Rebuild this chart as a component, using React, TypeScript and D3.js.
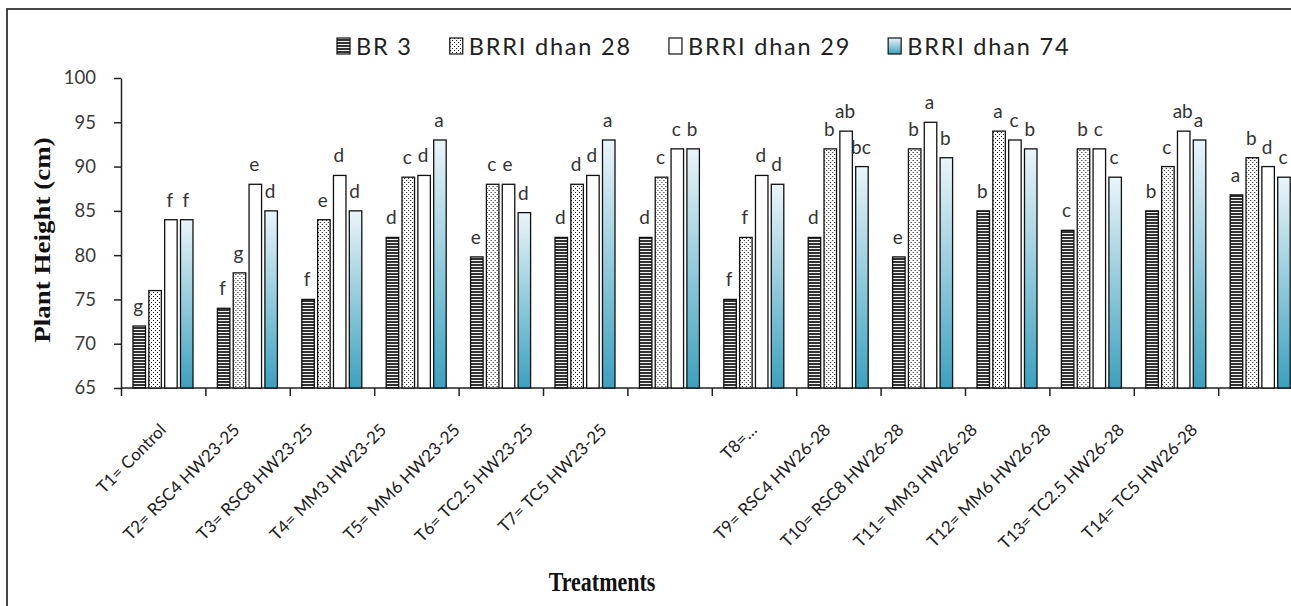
import React, { Component } from "react";
import * as d3 from "d3";

// treatments on the x axis
const treatments = [
  "T1= Control",
  "T2= RSC4 HW23-25",
  "T3= RSC8 HW23-25",
  "T4= MM3 HW23-25",
  "T5= MM6 HW23-25",
  "T6= TC2.5 HW23-25",
  "T7= TC5 HW23-25",
  "T8=…",
  "T9= RSC4 HW26-28",
  "T10= RSC8 HW26-28",
  "T11= MM3 HW26-28",
  "T12= MM6 HW26-28",
  "T13= TC2.5 HW26-28",
  "T14= TC5 HW26-28",
];

const varieties = ["BR 3", "BRRI dhan 28", "BRRI dhan 29", "BRRI dhan 74"];

// plant height (cm)
const br3 = [72, 74, 75, 82, 79.8, 82, 82, 75, 82, 79.8, 85, 82.8, 85, 86.8];
const dhan28 = [76, 78, 84, 88.8, 88, 88, 88.8, 82, 92, 92, 94, 92, 90, 91];
const dhan29 = [84, 88, 89, 89, 88, 89, 92, 89, 94, 95, 93, 92, 94, 90];
const dhan74 = [84, 85, 85, 93, 84.8, 93, 92, 88, 90, 91, 92, 88.8, 93, 88.8];

// DMRT letters
const br3Letters = ["g", "f", "f", "d", "e", "d", "d", "f", "d", "e", "b", "c", "b", "a"];
const dhan28Letters = ["", "g", "e", "c", "c", "d", "c", "f", "b", "b", "a", "b", "c", "b"];
const dhan29Letters = ["f", "e", "d", "d", "e", "d", "c", "d", "ab", "a", "c", "c", "ab", "d"];
const dhan74Letters = ["f", "d", "d", "a", "d", "a", "b", "d", "bc", "b", "b", "c", "a", "c"];

const yTicks = [65, 70, 75, 80, 85, 90, 95, 100];

class Visualization extends Component {
  svgRef = React.createRef<SVGSVGElement>();

  componentDidMount() {
    this.drawChart();
  }

  drawChart() {
    const width = 1291;
    const height = 606;
    const margin = { top: 78, left: 121, bottom: 218 };
    const sans = "Lato, 'Open Sans', sans-serif";
    const serif = "'Liberation Serif', 'Times New Roman', serif";

    const svg = d3.select(this.svgRef.current);
    svg.selectAll("*").remove();

    const defs = svg.append("defs");
    const stripes = defs
      .append("pattern")
      .attr("id", "stripes")
      .attr("patternUnits", "userSpaceOnUse")
      .attr("width", 4)
      .attr("height", 3);
    stripes.append("rect").attr("width", 4).attr("height", 3).attr("fill", "#f2f2f2");
    stripes.append("rect").attr("width", 4).attr("height", 2).attr("fill", "#333");

    const dots = defs
      .append("pattern")
      .attr("id", "dots")
      .attr("patternUnits", "userSpaceOnUse")
      .attr("width", 4)
      .attr("height", 4);
    dots.append("rect").attr("width", 4).attr("height", 4).attr("fill", "#fff");
    dots.append("rect").attr("x", 0).attr("y", 0).attr("width", 1).attr("height", 1).attr("fill", "#111");
    dots.append("rect").attr("x", 2).attr("y", 2).attr("width", 1).attr("height", 1).attr("fill", "#111");

    const grad = defs
      .append("linearGradient")
      .attr("id", "blueGrad")
      .attr("x1", 0)
      .attr("y1", 0)
      .attr("x2", 0)
      .attr("y2", 1);
    grad.append("stop").attr("offset", "0%").attr("stop-color", "#eaf5f9");
    grad.append("stop").attr("offset", "100%").attr("stop-color", "#3ba1bf");

    const fills = ["url(#stripes)", "url(#dots)", "#ffffff", "url(#blueGrad)"];
    const values = [br3, dhan28, dhan29, dhan74];
    const letters = [br3Letters, dhan28Letters, dhan29Letters, dhan74Letters];

    // outer frame
    svg
      .append("rect")
      .attr("x", 7)
      .attr("y", 9)
      .attr("width", 3000)
      .attr("height", 3000)
      .attr("fill", "none")
      .attr("stroke", "#333")
      .attr("stroke-width", 1.8);

    const step = 84.4;
    const x0 = d3
      .scaleBand()
      .domain(treatments)
      .range([margin.left, margin.left + step * treatments.length]);

    const x1 = d3
      .scaleBand()
      .domain(varieties)
      .range([12, 72])
      .paddingInner(0.21);

    const y = d3
      .scaleLinear()
      .domain([65, 100])
      .range([height - margin.bottom, margin.top]);

    // y axis
    const yAxis = svg
      .append("g")
      .attr("transform", `translate(${margin.left}, 0)`)
      .call(d3.axisLeft(y).tickValues(yTicks).tickSize(7).tickSizeOuter(0).tickPadding(18));
    yAxis.select(".domain").attr("stroke", "#222").attr("stroke-width", 1.5);
    yAxis.selectAll(".tick line").attr("stroke", "#222").attr("stroke-width", 1.5);
    yAxis
      .selectAll(".tick text")
      .attr("font-family", sans)
      .attr("font-size", 18.5)
      .attr("fill", "#3a3a3a");

    // x axis
    const xg = svg.append("g");
    xg.append("line")
      .attr("x1", margin.left)
      .attr("x2", width + 20)
      .attr("y1", y(65))
      .attr("y2", y(65))
      .attr("stroke", "#222")
      .attr("stroke-width", 1.5);
    xg.selectAll("line.tick")
      .data(treatments)
      .join("line")
      .attr("class", "tick")
      .attr("x1", (d) => x0(d) + 0.5)
      .attr("x2", (d) => x0(d) + 0.5)
      .attr("y1", y(65))
      .attr("y2", y(65) + 8)
      .attr("stroke", "#222")
      .attr("stroke-width", 1.5);

    // category labels, drawn in two runs of seven
    const labelPitch = step * 0.87;
    xg.selectAll("text")
      .data(treatments)
      .join("text")
      .attr("transform", (d, i) => {
        const start = i < 7 ? 0 : 7;
        const lx = x0(treatments[start]) + x0.bandwidth() / 2 + 4 + (i - start) * labelPitch;
        return `translate(${lx}, ${y(65) + 43}) rotate(-45)`;
      })
      .attr("text-anchor", "end")
      .attr("font-family", sans)
      .attr("font-size", 17)
      .attr("fill", "#222")
      .text((d) => d);

    // bars
    const groups = svg
      .append("g")
      .selectAll("g")
      .data(treatments)
      .join("g")
      .attr("transform", (d) => `translate(${x0(d)}, 0)`);

    groups
      .selectAll("rect")
      .data((d, i) => varieties.map((v, s) => ({ v, s, value: values[s][i] })))
      .join("rect")
      .attr("x", (d) => x1(d.v))
      .attr("y", (d) => y(d.value))
      .attr("width", x1.bandwidth())
      .attr("height", (d) => y(65) - y(d.value))
      .attr("fill", (d) => fills[d.s])
      .attr("stroke", "#111")
      .attr("stroke-width", 1.3);

    groups
      .selectAll("text")
      .data((d, i) => varieties.map((v, s) => ({ v, s, value: values[s][i], letter: letters[s][i] })))
      .join("text")
      .attr("x", (d) => x1(d.v) + x1.bandwidth() / 2 - 1)
      .attr("y", (d) => y(d.value) - 13)
      .attr("text-anchor", "middle")
      .attr("font-family", sans)
      .attr("font-size", 19)
      .attr("fill", "#333")
      .text((d) => d.letter);

    // legend
    const legend = svg.append("g");
    let lx = 337;
    varieties.forEach((v, s) => {
      legend
        .append("rect")
        .attr("x", lx)
        .attr("y", 38)
        .attr("width", 13)
        .attr("height", 16)
        .attr("fill", fills[s])
        .attr("stroke", "#111")
        .attr("stroke-width", 1.2);
      const t = legend
        .append("text")
        .attr("x", lx + 19)
        .attr("y", 55)
        .attr("font-family", sans)
        .attr("font-size", 23.5)
        .attr("letter-spacing", 1.8)
        .attr("fill", "#222")
        .text(v);
      const w = (t.node() as SVGTextElement).getComputedTextLength();
      lx = lx + 19 + w + 37;
    });

    // axis titles
    svg
      .append("text")
      .attr("transform", "translate(50, 240) scale(0.85, 1) rotate(-90)")
      .attr("text-anchor", "middle")
      .attr("font-family", serif)
      .attr("font-weight", "bold")
      .attr("font-size", 27)
      .attr("fill", "#111")
      .text("Plant Height (cm)");

    svg
      .append("text")
      .attr("transform", "translate(602, 591) scale(0.83, 1)")
      .attr("text-anchor", "middle")
      .attr("font-family", serif)
      .attr("font-weight", "bold")
      .attr("font-size", 26.5)
      .attr("fill", "#111")
      .text("Treatments");
  }

  render() {
    return (
      <svg
        ref={this.svgRef}
        width={1291}
        height={606}
        style={{ position: "absolute", left: 0, top: 0, background: "#fff" }}
      />
    );
  }
}

export default function App() {
  return <Visualization />;
}
